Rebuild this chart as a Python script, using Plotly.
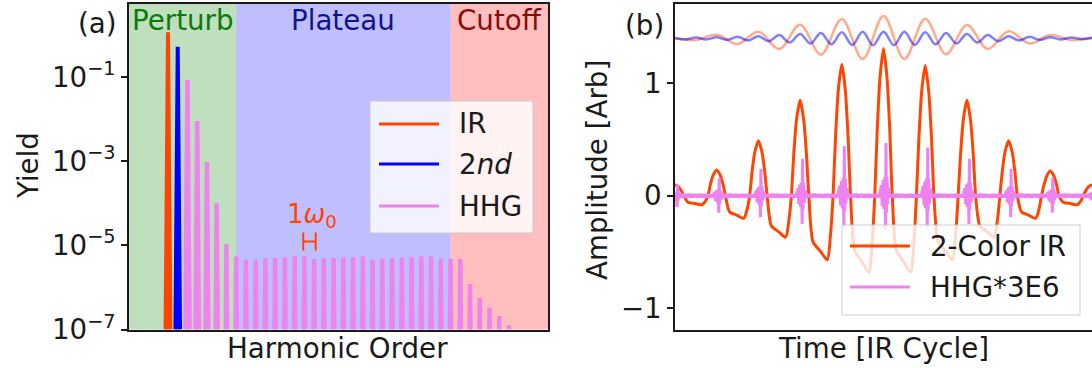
import math
import plotly.graph_objects as go

W, H = 1092, 368
FONT = "DejaVu Sans"
FS = 27.7
INK = "#1a1a1a"

# ---------------- panel (a): harmonic spectrum ----------------
ir_order = [1]
ir_yield = [1.14]
second_order = [2]
second_yield = [0.52]
hhg_order = list(range(3, 37))
hhg_yield = [8.5e-2, 8.9e-3, 9.5e-4, 1.0e-4, 1.05e-5, 5.4e-6, 4.6e-6, 4.6e-6, 5.0e-6, 5.0e-6,
             5.2e-6, 5.4e-6, 5.4e-6, 4.7e-6, 4.9e-6, 5.0e-6, 5.1e-6, 5.2e-6, 5.4e-6, 4.6e-6,
             4.8e-6, 5.0e-6, 5.1e-6, 5.2e-6, 5.4e-6, 5.4e-6, 4.7e-6, 4.8e-6, 4.7e-6, 1.2e-6,
             5.6e-7, 3.3e-7, 2.1e-7, 1.26e-7]
regions = ["Perturb", "Plateau", "Cutoff"]
region_edges = [-3, 8, 30, 40]
region_fill = ["rgba(0,128,0,0.25)", "rgba(0,0,255,0.25)", "rgba(255,0,0,0.25)"]
region_text = ["#0a7a0a", "#12128f", "#8b0a0a"]
yield_ticks = [1e-1, 1e-3, 1e-5, 1e-7]
yield_ticktext = ["10<sup>\u22121</sup>", "10<sup>\u22123</sup>", "10<sup>\u22125</sup>", "10<sup>\u22127</sup>"]
spacing_center, spacing_half = 15.52, 0.64
spacing_level = 10 ** -4.91

FLOOR = 1e-7
TAPER = 0.035  # half-width (orders) added per decade below a peak tip


def spikes(orders, yields):
    xs, ys = [], []
    for h, v in zip(orders, yields):
        hw = TAPER * (math.log10(v) - math.log10(FLOOR))
        xs += [h - hw, h, h + hw, None]
        ys += [FLOOR, v, FLOOR, None]
    return xs, ys


# ---------------- panel (b): time domain ----------------
cycle_t = list(range(11))                      # field maxima sit on whole cycles
ir_peak = [0.10, 0.23, 0.49, 0.85, 1.17, 1.31, 1.16, 0.85, 0.49, 0.22, 0.10]
ir_trough = [-0.08, -0.20, -0.37, -0.57, -0.68, -0.68, -0.57, -0.37, -0.20, -0.08]
# profile of one cycle between neighbouring maxima
fall_off, fall_frac = [0.085, 0.15, 0.21], [0.8, 0.45, 0.0]
trough_off, trough_frac = [0.31, 0.48, 0.65, 0.73], [0.72, 0.86, 1.0, 0.6]
rise_off, rise_frac = [0.79, 0.85, 0.915], [0.0, 0.45, 0.8]

hhg_up = [0.10, 0.16, 0.24, 0.33, 0.44, 0.47, 0.43, 0.33, 0.24, 0.16, 0.10]
hhg_down = [-0.10, -0.15, -0.19, -0.25, -0.28, -0.30, -0.28, -0.25, -0.19, -0.15, -0.10]
burst_off = [-0.08, -0.06, -0.04, -0.02, 0.0, 0.02, 0.03, 0.04, 0.055, 0.07, 0.09]
burst_level = [0.2, -0.3, 0.3, -0.4, 0.35, -1.0, 1.0, -0.5, 0.35, -0.25, 0.15]
wiggle = [0.014, -0.016, 0.017, -0.013, 0.015, -0.017, 0.016, -0.014, 0.018, -0.015,
          0.013, -0.016, 0.017, -0.014, 0.015, -0.018, 0.014, -0.016, 0.016, -0.013,
          0.017, -0.015, 0.014, -0.017, 0.016, -0.014, 0.015, -0.016, 0.013, -0.015]

half_t = [k / 2 for k in range(21)]
omega_trace = [1.40, 1.386, 1.433, 1.351, 1.46, 1.306, 1.523, 1.256, 1.573, 1.217, 1.60,
               1.217, 1.575, 1.26, 1.52, 1.306, 1.465, 1.356, 1.43, 1.387, 1.41]
quarter_t = [k / 4 for k in range(41)]
two_omega_max = [1.405, 1.408, 1.41, 1.415, 1.42, 1.43, 1.44, 1.45, 1.455, 1.46, 1.46,
                 1.46, 1.455, 1.45, 1.44, 1.43, 1.42, 1.415, 1.41, 1.408, 1.405]
two_omega_min = [1.393, 1.392, 1.388, 1.383, 1.375, 1.365, 1.355, 1.348, 1.342, 1.34,
                 1.34, 1.342, 1.348, 1.355, 1.365, 1.375, 1.383, 1.388, 1.392, 1.395]

# assemble the IR field
ir_t, ir_e = [], []
for n in range(10):
    ir_t.append(cycle_t[n]); ir_e.append(ir_peak[n])
    for o, f in zip(fall_off, fall_frac):
        ir_t.append(n + o); ir_e.append(f * ir_peak[n])
    for o, f in zip(trough_off, trough_frac):
        ir_t.append(n + o); ir_e.append(f * ir_trough[n])
    for o, f in zip(rise_off, rise_frac):
        ir_t.append(n + o); ir_e.append(f * ir_peak[n + 1])
ir_t.append(cycle_t[10]); ir_e.append(ir_peak[10])

# assemble the scaled HHG signal
hhg_t, hhg_v = [], []
for n in range(11):
    for o, lv in zip(burst_off, burst_level):
        hhg_t.append(n + 0.03 + o)
        hhg_v.append(lv * hhg_up[n] if lv > 0 else -lv * hhg_down[n])
    if n < 10:
        for k, w in enumerate(wiggle):
            hhg_t.append(n + 0.14 + k * 0.026); hhg_v.append(w)

# second-harmonic reference trace
two_t, two_v = [], []
for k, tt in enumerate(quarter_t):
    two_t.append(tt)
    two_v.append(two_omega_max[k // 2] if k % 2 == 0 else two_omega_min[k // 2])

fig = go.Figure()

hx, hy = spikes(hhg_order, hhg_yield)
fig.add_trace(go.Scatter(x=hx, y=hy, mode="lines", fill="toself", fillcolor="violet",
                         line=dict(color="violet", width=4.5), name="HHG", showlegend=False,
                         xaxis="x", yaxis="y"))
sx, sy = spikes(second_order, second_yield)
fig.add_trace(go.Scatter(x=sx, y=sy, mode="lines", fill="toself", fillcolor="blue",
                         line=dict(color="blue", width=4), name="2nd", showlegend=False,
                         xaxis="x", yaxis="y"))
ix, iy = spikes(ir_order, ir_yield)
fig.add_trace(go.Scatter(x=ix, y=iy, mode="lines", fill="toself", fillcolor="orangered",
                         line=dict(color="orangered", width=4), name="IR", showlegend=False,
                         xaxis="x", yaxis="y"))
fig.add_trace(go.Scatter(x=[spacing_center], y=[spacing_level], mode="markers",
                         marker=dict(size=1, color="rgba(0,0,0,0)"),
                         error_x=dict(type="constant", value=spacing_half, color="orangered",
                                      thickness=2, width=9),
                         showlegend=False, xaxis="x", yaxis="y"))

fig.add_trace(go.Scatter(x=half_t, y=omega_trace, mode="lines",
                         line=dict(color="rgba(255,69,0,0.45)", width=2.5, shape="spline"),
                         showlegend=False, xaxis="x2", yaxis="y2"))
fig.add_trace(go.Scatter(x=two_t, y=two_v, mode="lines",
                         line=dict(color="rgba(0,0,255,0.5)", width=2.5, shape="spline"),
                         showlegend=False, xaxis="x2", yaxis="y2"))
fig.add_trace(go.Scatter(x=ir_t, y=ir_e, mode="lines",
                         line=dict(color="orangered", width=3, shape="spline", smoothing=0.7),
                         name="2-Color IR", showlegend=False, xaxis="x2", yaxis="y2"))
fig.add_trace(go.Scatter(x=hhg_t, y=hhg_v, mode="lines",
                         line=dict(color="violet", width=3),
                         name="HHG*3E6", showlegend=False, xaxis="x2", yaxis="y2"))


def px(x):
    return x / W


def py(y):
    return 1 - y / H


shapes = []
for i in range(3):
    shapes.append(dict(type="rect", xref="x", yref="y domain", x0=region_edges[i],
                       x1=region_edges[i + 1], y0=0, y1=1, fillcolor=region_fill[i],
                       line=dict(width=0), layer="below"))

annotations = []
for i, name in enumerate(regions):
    annotations.append(dict(x=(region_edges[i] + region_edges[i + 1]) / 2, xref="x",
                            y=py(20), yref="paper", text=name, showarrow=False,
                            font=dict(family=FONT, size=FS, color=region_text[i]),
                            xanchor="center", yanchor="middle"))
annotations.append(dict(x=spacing_center + 0.3, xref="x", y=-4.29, yref="y",
                        text="1<i>\u03c9</i><sub>0</sub>", showarrow=False,
                        font=dict(family=FONT, size=26, color="orangered"),
                        xanchor="center", yanchor="middle"))


def legend_box(x0, y0, x1, y1, rows, sample_x0, sample_x1, text_x):
    shapes.append(dict(type="rect", xref="paper", yref="paper", x0=px(x0), x1=px(x1),
                       y0=py(y1), y1=py(y0), fillcolor="rgba(255,255,255,0.8)",
                       line=dict(color="rgba(200,200,200,0.9)", width=1), layer="above"))
    for yrow, color, label in rows:
        shapes.append(dict(type="line", xref="paper", yref="paper", x0=px(sample_x0),
                           x1=px(sample_x1), y0=py(yrow), y1=py(yrow),
                           line=dict(color=color, width=3), layer="above"))
        annotations.append(dict(x=px(text_x), y=py(yrow), xref="paper", yref="paper",
                                text=label, showarrow=False, xanchor="left",
                                yanchor="middle",
                                font=dict(family=FONT, size=FS, color=INK)))


legend_box(370, 101, 533, 233,
           [(124, "orangered", "IR"), (164, "blue", "2<i>nd</i>"), (206, "violet", "HHG")],
           379, 439, 457)
legend_box(842, 225, 1080, 315,
           [(246, "orangered", "2-Color IR"), (287, "violet", "HHG*3E6")],
           850, 910, 928)

for txt, x, y, ang in [("Yield", 28, 166, -90), ("Harmonic Order", 337, 348, 0),
                       ("Amplitude [Arb]", 598, 170, -90), ("Time [IR Cycle]", 883, 348, 0),
                       ("(a)", 97, 24, 0), ("(b)", 644, 26, 0)]:
    annotations.append(dict(x=px(x), y=py(y), xref="paper", yref="paper", text=txt,
                            showarrow=False, textangle=ang, xanchor="center",
                            yanchor="middle", font=dict(family=FONT, size=FS, color=INK)))

ydom = [py(329.5), py(4)]
axis_common = dict(showline=True, linecolor=INK, linewidth=1.5, showgrid=False,
                   zeroline=False, automargin=False)
fig.update_layout(
    width=W, height=H, margin=dict(l=0, r=0, t=0, b=0, pad=0, autoexpand=False),
    paper_bgcolor="white", plot_bgcolor="white",
    font=dict(family=FONT, size=FS, color=INK),
    xaxis=dict(domain=[px(129), px(548)], range=region_edges[0:1] + region_edges[-1:],
               mirror=True, showticklabels=False, ticks="", anchor="y", **axis_common),
    yaxis=dict(domain=ydom, type="log", range=[-7, 0.729], mirror=True, anchor="x",
               tickvals=yield_ticks, ticktext=yield_ticktext, ticks="outside", ticklen=6,
               tickwidth=1.5, tickcolor=INK, tickfont=dict(family=FONT, size=FS, color=INK),
               **axis_common),
    xaxis2=dict(domain=[px(675), 1.0], range=[0, 10], mirror=True, showticklabels=False,
                ticks="", anchor="y2", **axis_common),
    yaxis2=dict(domain=ydom, range=[-1.19, 1.707], anchor="x2", mirror=False,
                tickvals=[-1, 0, 1], ticktext=["\u22121", "0", "1"], ticks="outside",
                ticklen=6, tickwidth=1.5, tickcolor=INK,
                tickfont=dict(family=FONT, size=FS, color=INK), **axis_common),
    shapes=shapes, annotations=annotations,
)

fig.write_html("out.html")
